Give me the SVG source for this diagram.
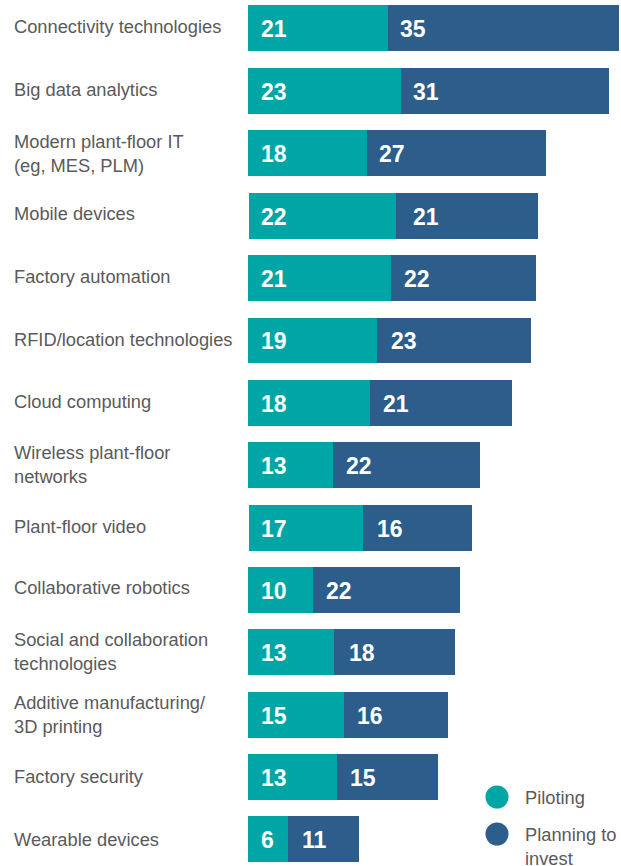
<svg xmlns="http://www.w3.org/2000/svg" width="621" height="866" viewBox="0 0 621 866">
<style>
.lbl{font-family:"Liberation Sans",Arial,sans-serif;font-size:18.3px;fill:#5a5a5a}
.num{font-family:"Liberation Sans",Arial,sans-serif;font-size:23px;font-weight:bold;fill:#ffffff}
.p{fill:#00a5a5}
.q{fill:#2d5d8a}
</style>
<rect width="621" height="866" fill="#ffffff"/>
<g id="row1"><text class="lbl" x="14" y="33">Connectivity technologies</text><rect class="p" x="248" y="5" width="140" height="46"/><rect class="q" x="388" y="5" width="231" height="46"/><text class="num" x="261" y="37">21</text><text class="num" x="400" y="37">35</text></g>
<g id="row2"><text class="lbl" x="14" y="96">Big data analytics</text><rect class="p" x="248" y="68" width="153" height="46"/><rect class="q" x="401" y="68" width="208" height="46"/><text class="num" x="261" y="100">23</text><text class="num" x="413" y="100">31</text></g>
<g id="row3"><text class="lbl" x="14" y="148">Modern plant-floor IT</text><text class="lbl" x="14" y="172">(eg, MES, PLM)</text><rect class="p" x="248" y="130" width="119" height="46"/><rect class="q" x="367" y="130" width="179" height="46"/><text class="num" x="261" y="162">18</text><text class="num" x="379" y="162">27</text></g>
<g id="row4"><text class="lbl" x="14" y="220">Mobile devices</text><rect class="p" x="249" y="193" width="147" height="46"/><rect class="q" x="396" y="193" width="142" height="46"/><text class="num" x="261" y="225">22</text><text class="num" x="413" y="225">21</text></g>
<g id="row5"><text class="lbl" x="14" y="283">Factory automation</text><rect class="p" x="248" y="255" width="143" height="46"/><rect class="q" x="391" y="255" width="145" height="46"/><text class="num" x="261" y="287">21</text><text class="num" x="404" y="287">22</text></g>
<g id="row6"><text class="lbl" x="14" y="346">RFID/location technologies</text><rect class="p" x="248" y="318" width="129" height="45"/><rect class="q" x="377" y="318" width="154" height="45"/><text class="num" x="261" y="349">19</text><text class="num" x="391" y="349">23</text></g>
<g id="row7"><text class="lbl" x="14" y="408">Cloud computing</text><rect class="p" x="248" y="380" width="122" height="46"/><rect class="q" x="370" y="380" width="142" height="46"/><text class="num" x="261" y="412">18</text><text class="num" x="383" y="412">21</text></g>
<g id="row8"><text class="lbl" x="14" y="459">Wireless plant-floor</text><text class="lbl" x="14" y="483">networks</text><rect class="p" x="248" y="442" width="85" height="46"/><rect class="q" x="333" y="442" width="147" height="46"/><text class="num" x="261" y="474">13</text><text class="num" x="346" y="474">22</text></g>
<g id="row9"><text class="lbl" x="14" y="533">Plant-floor video</text><rect class="p" x="249" y="505" width="114" height="46"/><rect class="q" x="363" y="505" width="109" height="46"/><text class="num" x="261" y="537">17</text><text class="num" x="377" y="537">16</text></g>
<g id="row10"><text class="lbl" x="14" y="594">Collaborative robotics</text><rect class="p" x="248" y="567" width="65" height="46"/><rect class="q" x="313" y="567" width="147" height="46"/><text class="num" x="261" y="599">10</text><text class="num" x="326" y="599">22</text></g>
<g id="row11"><text class="lbl" x="14" y="646">Social and collaboration</text><text class="lbl" x="14" y="670">technologies</text><rect class="p" x="248" y="629" width="86" height="46"/><rect class="q" x="334" y="629" width="121" height="46"/><text class="num" x="261" y="661">13</text><text class="num" x="349" y="661">18</text></g>
<g id="row12"><text class="lbl" x="14" y="709">Additive manufacturing/</text><text class="lbl" x="14" y="733">3D printing</text><rect class="p" x="248" y="692" width="96" height="46"/><rect class="q" x="344" y="692" width="104" height="46"/><text class="num" x="261" y="724">15</text><text class="num" x="357" y="724">16</text></g>
<g id="row13"><text class="lbl" x="14" y="783">Factory security</text><rect class="p" x="248" y="754" width="89" height="46"/><rect class="q" x="337" y="754" width="101" height="46"/><text class="num" x="261" y="786">13</text><text class="num" x="350" y="786">15</text></g>
<g id="row14"><text class="lbl" x="14" y="846">Wearable devices</text><rect class="p" x="248" y="816" width="40" height="46"/><rect class="q" x="288" y="816" width="71" height="46"/><text class="num" x="261" y="848">6</text><text class="num" x="302" y="848">11</text></g>
<g id="legend"><circle class="p" cx="497" cy="797" r="11.5"/><text class="lbl" x="525" y="804">Piloting</text><circle class="q" cx="497" cy="834" r="11.5"/><text class="lbl" x="525" y="841">Planning to</text><text class="lbl" x="525" y="865">invest</text></g>
</svg>
